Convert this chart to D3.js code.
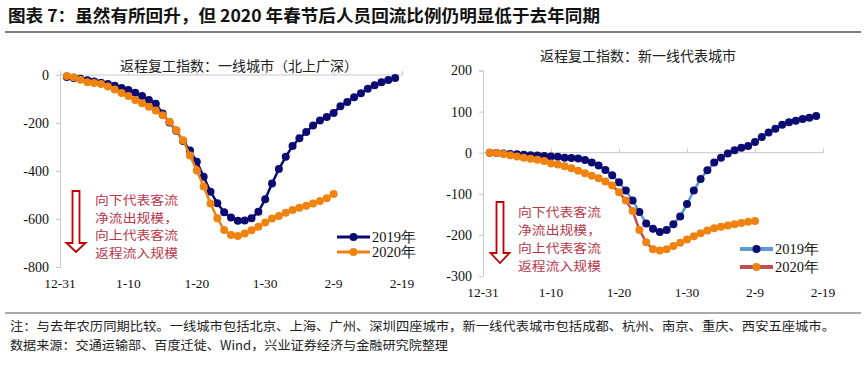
<!DOCTYPE html>
<html><head><meta charset="utf-8">
<script src="https://cdn.jsdelivr.net/npm/d3@7/dist/d3.min.js"></script>
<style>
html,body{margin:0;padding:0;background:#fff;}
svg{display:block;}
</style></head>
<body>
<svg id="c" width="866" height="366"></svg>
<script>
// ---------- DATA ----------
const xTickLabels = ["12-31","1-10","1-20","1-30","2-9","2-19"];
const seriesNames = ["2019年","2020年"];
const leftTitle = "返程复工指数：一线城市（北上广深）";
const rightTitle = "返程复工指数：新一线代表城市";
const leftYTicks = [0,-200,-400,-600,-800];
const rightYTicks = [200,100,0,-100,-200,-300];
// daily values, day 1 = 1-1 (lunar-aligned), one point per day
const tier1_2019 = [-8,-12,-16,-22,-27,-32,-38,-45,-54,-63,
  -74,-87,-104,-120,-160,-198,-232,-275,-315,-361,
  -424,-486,-534,-572,-594,-607,-606,-597,-570,-518,
  -452,-392,-341,-296,-264,-238,-210,-190,-175,-158,
  -130,-112,-93,-76,-57,-43,-30,-21,-13];
const tier1_2020 = [-4,-9,-20,-30,-33,-38,-48,-60,-75,-88,
  -104,-118,-132,-148,-168,-195,-230,-272,-335,-398,
  -465,-535,-597,-646,-667,-671,-660,-647,-632,-615,
  -598,-587,-574,-562,-553,-545,-535,-525,-514,-496];
const newTier1_2019 = [0,-1,-2,-3,-4,-5,-6,-7,-8,-9,
  -10,-12,-13,-14,-18,-24,-31,-42,-55,-72,
  -92,-116,-144,-172,-185,-193,-188,-174,-155,-125,
  -92,-64,-43,-24,-12,-2,6,12,16,26,
  38,49,58,68,74,78,82,85,89];
const newTier1_2020 = [0,-1,-3,-6,-9,-12,-15,-17,-20,-26,
  -29,-33,-38,-44,-50,-56,-62,-70,-80,-96,
  -116,-142,-188,-218,-235,-238,-235,-227,-219,-211,
  -203,-196,-189,-184,-180,-177,-174,-171,-168,-166];
const annoLines = ["向下代表客流","净流出规模，","向上代表客流","返程流入规模"];
const headerText = "图表 7：虽然有所回升，但 2020 年春节后人员回流比例仍明显低于去年同期";
const noteText = "注：与去年农历同期比较。一线城市包括北京、上海、广州、深圳四座城市，新一线代表城市包括成都、杭州、南京、重庆、西安五座城市。";
const sourceText = "数据来源：交通运输部、百度迁徙、Wind，兴业证券经济与金融研究院整理";

// ---------- STYLE ----------
const CJK = "'Noto Sans CJK SC','Noto Sans',sans-serif";
const SERIF = "'Liberation Serif','DejaVu Serif',serif";
const NAVY = "#0b0b72", ORANGE = "#f0820f";
const AXIS = "#c8c8c8";
const ANNO = "#b8364a";

const svg = d3.select("#c");

// header
svg.append("text").attr("x",8).attr("y",22)
  .attr("font-family",CJK).attr("font-weight","bold").attr("font-size",16.5)
  .attr("fill","#111").attr("textLength",592).attr("lengthAdjust","spacingAndGlyphs")
  .text(headerText);
svg.append("line").attr("x1",5).attr("x2",861).attr("y1",32).attr("y2",32)
  .attr("stroke","#555").attr("stroke-width",1.5);
svg.append("line").attr("x1",5).attr("x2",861).attr("y1",313).attr("y2",313)
  .attr("stroke","#555").attr("stroke-width",1.2);
svg.append("text").attr("x",10).attr("y",331)
  .attr("font-family",CJK).attr("font-size",12.5).attr("fill","#222")
  .attr("textLength",825).attr("lengthAdjust","spacingAndGlyphs").text(noteText);
svg.append("text").attr("x",10).attr("y",350)
  .attr("font-family",CJK).attr("font-size",12.5).attr("fill","#222")
  .attr("textLength",438).attr("lengthAdjust","spacingAndGlyphs").text(sourceText);

function drawPanel(cfg){
  const g = svg.append("g");
  const x = d3.scaleLinear().domain([0,50]).range([cfg.x0,cfg.x1]);
  const y = d3.scaleLinear().domain(cfg.yDomain).range([cfg.yTop,cfg.yBot]);

  // title
  g.append("text").attr("x",cfg.titleX).attr("y",cfg.titleY).attr("text-anchor","middle")
    .attr("font-family",CJK).attr("font-size",14).attr("fill","#222").text(cfg.title);

  // y axis
  const yAxis = d3.axisLeft(y).tickValues(cfg.yTicks).tickSize(4).tickPadding(7)
    .tickFormat(d3.format("d"));
  const ya = g.append("g").attr("transform",`translate(${cfg.x0},0)`).call(yAxis);
  ya.select(".domain").attr("stroke",AXIS);
  ya.selectAll(".tick line").attr("stroke",AXIS);
  ya.selectAll(".tick text").attr("font-family",SERIF).attr("font-size",14).attr("fill","#111")
    .text(d=>d<0?"-"+Math.abs(d):d);

  // x axis line at zero, ticks pointing up
  const xa = d3.axisTop(x).tickValues([0,10,20,30,40,50]).tickSize(4).tickFormat("");
  const xg = g.append("g").attr("transform",`translate(0,${y(0)})`).call(xa);
  xg.select(".domain").attr("stroke",AXIS).attr("d",`M${cfg.x0},0H${cfg.x1}`);
  xg.selectAll(".tick line").attr("stroke",AXIS);
  // labels at the bottom (low)
  g.selectAll(".xl").data(xTickLabels).enter().append("text")
    .attr("x",(d,i)=>x(i*10)).attr("y",cfg.yBot+21).attr("text-anchor","middle")
    .attr("font-family",SERIF).attr("font-size",13.5).attr("fill","#111").text(d=>d);

  // series
  const series = [
    {vals:cfg.s2019, line:cfg.line2019, mark:NAVY},
    {vals:cfg.s2020, line:cfg.line2020, mark:ORANGE}
  ];
  const lineGen = d3.line().x((d,i)=>x(i+1)).y(d=>y(d));
  series.forEach(s=>{
    g.append("path").datum(s.vals).attr("d",lineGen).attr("fill","none")
      .attr("stroke",s.line).attr("stroke-width",2.5);
    g.selectAll(null).data(s.vals).enter().append("circle")
      .attr("cx",(d,i)=>x(i+1)).attr("cy",d=>y(d)).attr("r",4).attr("fill",s.mark);
  });

  // legend
  series.forEach((s,i)=>{
    const ly = cfg.legY + i*cfg.legGap;
    g.append("line").attr("x1",cfg.legX).attr("x2",cfg.legX+33).attr("y1",ly).attr("y2",ly)
      .attr("stroke",s.line).attr("stroke-width",cfg.legW);
    g.append("circle").attr("cx",cfg.legX+16.5).attr("cy",ly).attr("r",4).attr("fill",s.mark);
    g.append("text").attr("x",cfg.legX+35).attr("y",ly+5)
      .attr("font-family",SERIF).attr("font-size",14.5).attr("fill","#111").text(seriesNames[i]);
  });

  // hollow arrow
  const a = cfg.arrow;
  const pts = [[a.cx-3.5,a.top],[a.cx+3.5,a.top],[a.cx+3.5,a.base],[a.cx+9.5,a.base],
               [a.cx,a.tip],[a.cx-9.5,a.base],[a.cx-3.5,a.base]];
  g.append("polygon").attr("points",pts.map(p=>p.join(",")).join(" "))
    .attr("fill","#fff").attr("stroke","#c00000").attr("stroke-width",1.8);
  // annotation text
  g.selectAll(null).data(annoLines).enter().append("text")
    .attr("x",cfg.annoX).attr("y",(d,i)=>cfg.annoY+i*cfg.annoGap)
    .attr("font-family",CJK).attr("font-size",12).attr("fill",ANNO)
    .attr("textLength",83).attr("lengthAdjust","spacingAndGlyphs").text(d=>d);
}

drawPanel({
  x0:60, x1:402, yTop:75, yBot:267, yDomain:[0,-800], yTicks:leftYTicks,
  title:leftTitle, titleX:239, titleY:71,
  s2019:tier1_2019, s2020:tier1_2020, line2019:NAVY, line2020:ORANGE,
  legX:337, legY:237, legGap:15, legW:3,
  arrow:{cx:76, top:191, base:243, tip:252},
  annoX:95, annoY:205, annoGap:17.7
});
drawPanel({
  x0:483, x1:823, yTop:70.5, yBot:276, yDomain:[200,-300], yTicks:rightYTicks,
  title:rightTitle, titleX:638, titleY:61,
  s2019:newTier1_2019, s2020:newTier1_2020, line2019:"#5b9bd5", line2020:"#c0504d",
  legX:740, legY:249, legGap:18, legW:4,
  arrow:{cx:500, top:202, base:253, tip:263},
  annoX:518, annoY:216.5, annoGap:18
});
</script>
</body></html>
